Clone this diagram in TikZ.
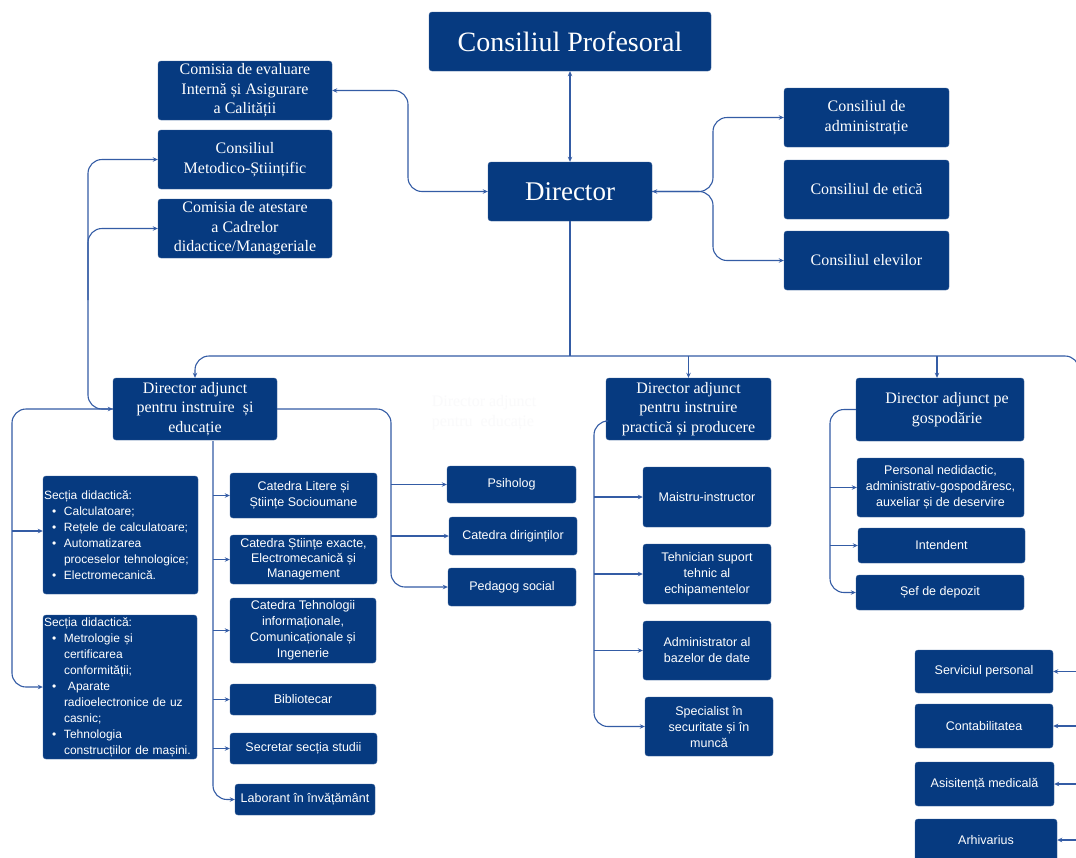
\documentclass[tikz,border=0pt]{standalone}
\usepackage{fontspec}
\setmainfont{Liberation Serif}
\newfontfamily\sansf{Liberation Sans}
\usetikzlibrary{arrows.meta,calc}
\definecolor{navy}{RGB}{6,58,128}
\definecolor{linec}{RGB}{52,92,165}
\definecolor{ghostc}{RGB}{250,250,251}
\newcommand\bitem[1]{\hspace*{8pt}\makebox[12pt][l]{\textbullet}#1}
\newcommand\bcont[1]{\hspace*{20pt}#1}
\tikzset{
  box/.style={fill=navy, draw=navy!80!white, line width=0.4pt, rounded corners=3pt, text=white, inner sep=1pt, align=center},
  serifbox/.style={box, font=\fontsize{16}{19.5}\selectfont},
  sansbox/.style={box, font=\sansf\fontsize{12.5}{16}\selectfont},
  listbox/.style={box, font=\sansf\fontsize{12}{16}\selectfont, align=left, inner xsep=1pt},
  conn/.style={draw=linec, line width=1.1pt, rounded corners=14pt},
  tip/.style={-{Stealth[length=5pt,width=4.5pt]}},
  tips/.style={{Stealth[length=5pt,width=4.5pt]}-{Stealth[length=5pt,width=4.5pt]}}
}
\begin{document}
\begin{tikzpicture}[x=1pt,y=-1pt]
\useasboundingbox (0,0) rectangle (1076,857);
\clip (0,0) rectangle (1076,857);
\fill[white] (0,0) rectangle (1076,857);

% top level
\node[box, font=\fontsize{28}{32}\selectfont, minimum width=282, minimum height=59] (prof) at (570,41.5) {Consiliul Profesoral};
\node[box, font=\fontsize{27}{32}\selectfont, minimum width=164, minimum height=59] (dir) at (570,191.5) {Director};

\node[serifbox, minimum width=174, minimum height=59] (ceval) at (245,90.5) {Comisia de evaluare\\Internă și Asigurare\\a Calității};
\node[serifbox, minimum width=174, minimum height=59] (cmet) at (245,159.5) {Consiliul\\Metodico-Științific};
\node[serifbox, minimum width=174, minimum height=59] (catest) at (245,228.5) {Comisia de atestare\\a Cadrelor\\didactice/Manageriale};

\node[serifbox, minimum width=165, minimum height=59] (cadm) at (866.5,117.5) {Consiliul de\\administrație};
\node[serifbox, minimum width=165, minimum height=59] (cetic) at (866.5,189.5) {Consiliul de etică};
\node[serifbox, minimum width=165, minimum height=59] (celev) at (866.5,260.5) {Consiliul elevilor};

% deputies
\node[serifbox, minimum width=164, minimum height=62] (dai) at (195,409) {Director adjunct\\pentru instruire~ și\\educație};
\node[serifbox, minimum width=165, minimum height=62] (dap) at (688.5,409) {Director adjunct\\pentru instruire\\practică și producere};
\node[serifbox, minimum width=168, minimum height=63] (dag) at (940,409.5) {\hspace*{14pt}Director adjunct pe\\\hspace*{14pt}gospodărie};

\node[text=ghostc, font=\fontsize{16}{20}\selectfont, align=left] (ghost) at (484,413) {Director adjunct\\pentru~ educație};

% sections
\node[listbox, minimum width=155, minimum height=118, text width=153] (sec1) at (120.5,535) {Secția didactică:\\
\bitem{Calculatoare;}\\
\bitem{Rețele de calculatoare;}\\
\bitem{Automatizarea}\\
\bcont{proceselor tehnologice;}\\
\bitem{Electromecanică.}};
\node[listbox, minimum width=154, minimum height=144, text width=152] (sec2) at (120,687) {Secția didactică:\\
\bitem{Metrologie și}\\
\bcont{certificarea}\\
\bcont{conformității;}\\
\bitem{~Aparate}\\
\bcont{radioelectronice de uz}\\
\bcont{casnic;}\\
\bitem{Tehnologia}\\
\bcont{construcțiilor de mașini.}};

% catedre
\node[sansbox, minimum width=147, minimum height=45] (clit) at (303.5,495.5) {Catedra Litere și\\Științe Socioumane};
\node[sansbox, font=\sansf\fontsize{12.5}{15}\selectfont, minimum width=147, minimum height=49] (cexa) at (303.5,559.5) {Catedra Științe exacte,\\Electromecanică și\\Management};
\node[sansbox, minimum width=146, minimum height=65] (ctehn) at (303,630.5) {Catedra Tehnologii\\informaționale,\\Comunicaționale și\\Ingenerie};
\node[sansbox, minimum width=146, minimum height=31] (bibl) at (303,699.5) {Bibliotecar};
\node[sansbox, minimum width=147, minimum height=31] (secr) at (303.5,748.5) {Secretar secția studii};
\node[sansbox, minimum width=140, minimum height=31] (lab) at (305,799.5) {Laborant în învățământ};

\node[sansbox, minimum width=129, minimum height=37] (psih) at (511.5,484.5) {Psiholog};
\node[sansbox, minimum width=128, minimum height=38] (cdir) at (513,536) {Catedra diriginților};
\node[sansbox, minimum width=128, minimum height=38] (ped) at (512,587) {Pedagog social};

\node[sansbox, minimum width=128, minimum height=60] (mais) at (707,497) {Maistru-instructor};
\node[sansbox, minimum width=128, minimum height=60] (tehn) at (707,574) {Tehnician suport\\tehnic al\\echipamentelor};
\node[sansbox, minimum width=128, minimum height=59] (admb) at (707,650.5) {Administrator al\\bazelor de date};
\node[sansbox, minimum width=128, minimum height=59] (spec) at (709,726.5) {Specialist în\\securitate și în\\muncă};

\node[sansbox, minimum width=167, minimum height=59] (pers) at (940.5,487.5) {Personal nedidactic,\\administrativ-gospodăresc,\\auxeliar și de deservire};
\node[sansbox, minimum width=167, minimum height=35] (inte) at (941.5,545.5) {Intendent};
\node[sansbox, minimum width=168, minimum height=35] (sef) at (940,592.5) {Șef de depozit};

\node[sansbox, minimum width=138, minimum height=43] (serv) at (984,671.5) {Serviciul personal};
\node[sansbox, minimum width=138, minimum height=44] (cont) at (984,726) {Contabilitatea};
\node[sansbox, minimum width=139, minimum height=44] (asis) at (984.5,784) {Asisitență medicală};
\node[sansbox, minimum width=142, minimum height=42] (arhi) at (986,840) {Arhivarius};

% coordinates
\coordinate (bus) at (570,356);
\coordinate (rdown) at (1079,900);
\coordinate (jr) at (713,191.5);
\coordinate (jl) at (408,150);
\coordinate (lv) at (88,300);
\coordinate (lw) at (12,600);
\coordinate (rv) at (391,500);
\coordinate (dv) at (213,441);
\coordinate (pv) at (594,600);
\coordinate (gv) at (830,520);

% connectors
\draw[conn,tips] (prof) -- (dir);
\draw[conn,tips] (ceval.east) -| (jl) |- (dir.west);
\draw[conn,tips] (dir.east) -- (jr) |- (cadm.west);
\draw[conn,tip] (dir.east) -- (jr) |- (celev.west);

\draw[conn] (dir.south) -- (bus);
\draw[conn,tip] (rdown) |- (bus) -| (dai.north);
\draw[conn,tip] (dap.north |- bus) -- (dap.north);
\draw[conn,tip] ([xshift=-3pt]dag.north |- bus) -- ([xshift=-3pt]dag.north);

\draw[conn,tips] (cmet.west) -| (lv) |- (dai.west);
\draw[conn,tip] (lv) |- (catest.west);

\draw[conn,tip] (dai.west) -| (lw) |- (sec2.west);
\draw[conn,tip] ([yshift=4pt]sec1.west -| lw) -- ([yshift=4pt]sec1.west);

\draw[conn,tip] (dai.east) -| (rv) |- (ped.west);
\draw[conn,tip] (psih.west -| rv) -- (psih.west);
\draw[conn,tip] (cdir.west -| rv) -- (cdir.west);

\draw[conn,tip] (dv) |- (lab.west);
\draw[conn,tip] (clit.west -| dv) -- (clit.west);
\draw[conn,tip] (cexa.west -| dv) -- (cexa.west);
\draw[conn,tip] (ctehn.west -| dv) -- (ctehn.west);
\draw[conn,tip] (bibl.west -| dv) -- (bibl.west);
\draw[conn,tip] (secr.west -| dv) -- (secr.west);

\draw[conn,tip] ([yshift=-12pt]dap.west) -| (pv) |- (spec.west);
\draw[conn,tip] (mais.west -| pv) -- (mais.west);
\draw[conn,tip] (tehn.west -| pv) -- (tehn.west);
\draw[conn,tip] (admb.west -| pv) -- (admb.west);

\draw[conn,tip] (dag.west) -| (gv) |- (sef.west);
\draw[conn,tip] (pers.west -| gv) -- (pers.west);
\draw[conn,tip] (inte.west -| gv) -- (inte.west);

\draw[conn,tip] (serv.east -| rdown) -- (serv.east);
\draw[conn,tip] (cont.east -| rdown) -- (cont.east);
\draw[conn,tip] (asis.east -| rdown) -- (asis.east);
\draw[conn,tip] (arhi.east -| rdown) -- (arhi.east);
\end{tikzpicture}
\end{document}
